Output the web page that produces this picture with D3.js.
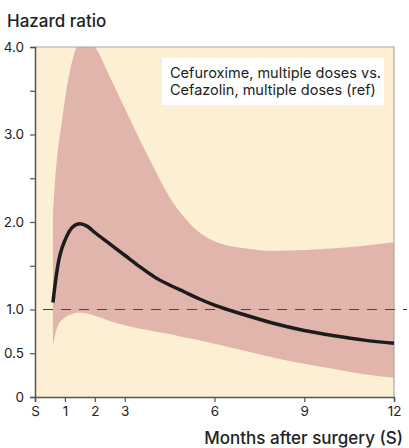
<!DOCTYPE html>
<html>
<head>
<meta charset="utf-8">
<script src="https://cdn.jsdelivr.net/npm/d3@7"></script>
<style>
  body { margin: 0; background: #fff; }
  svg { display: block; }
</style>
</head>
<body>
<svg id="chart" width="409" height="448"></svg>
<script>
// months after surgery, with hazard ratio and 95% band
const months = [0.6, 0.7, 0.8, 0.9, 1.0, 1.25, 1.5, 1.75, 2, 2.5, 3, 3.5, 4, 4.5, 5, 5.5, 6, 7, 8, 9, 10, 11, 12];
const hazard = [1.08, 1.36, 1.57, 1.70, 1.79, 1.94, 1.98, 1.95, 1.88, 1.75, 1.62, 1.49, 1.37, 1.28, 1.20, 1.12, 1.05, 0.94, 0.84, 0.76, 0.70, 0.65, 0.615];
const upper = [2.1, 2.6, 2.92, 3.15, 3.4, 3.85, 4.05, 4.07, 4.0, 3.66, 3.3, 2.94, 2.6, 2.28, 2.05, 1.88, 1.78, 1.70, 1.67, 1.68, 1.70, 1.73, 1.77];
const lower = [0.58, 0.75, 0.84, 0.88, 0.91, 0.95, 0.965, 0.955, 0.93, 0.87, 0.82, 0.78, 0.75, 0.72, 0.68, 0.65, 0.61, 0.53, 0.45, 0.38, 0.32, 0.26, 0.22];

const xTicks = [0, 1, 2, 3, 6, 9, 12];
const xTickLabels = ["S", "1", "2", "3", "6", "9", "12"];
const yTicks = [0, 0.5, 1, 1.5, 2, 2.5, 3, 3.5, 4];
const yTickLabels = { 0: "0", 0.5: "0.5", 1: "1.0", 2: "2.0", 3: "3.0", 4: "4.0" };
const legendLines = ["Cefuroxime, multiple doses vs.", "Cefazolin, multiple doses (ref)"];

const svg = d3.select("#chart");
const font = "Inter, 'Liberation Sans', Arial, sans-serif";
const plotLeft = 35, plotRight = 394, plotTop = 47, plotBottom = 397;

const x = d3.scaleLinear().domain([0, 12]).range([plotLeft, plotRight]);
const y = d3.scaleLinear().domain([0, 4]).range([plotBottom, plotTop]);

const data = months.map((m, i) => ({ m, hr: hazard[i], lo: lower[i], hi: upper[i] }));

svg.append("defs").append("clipPath")
  .attr("id", "plot-clip")
  .append("rect")
  .attr("x", plotLeft).attr("y", plotTop)
  .attr("width", plotRight - plotLeft).attr("height", plotBottom - plotTop);

// background
svg.append("rect")
  .attr("x", plotLeft).attr("y", plotTop)
  .attr("width", plotRight - plotLeft).attr("height", plotBottom - plotTop)
  .attr("fill", "#fdefd3");

// confidence band
const band = d3.area()
  .x(d => x(d.m))
  .y0(d => y(d.lo))
  .y1(d => y(d.hi))
  .curve(d3.curveMonotoneX);

svg.append("path")
  .datum(data)
  .attr("d", band)
  .attr("fill", "#e1b5ac")
  .attr("clip-path", "url(#plot-clip)");

// border top/right
svg.append("path")
  .attr("d", `M${plotLeft},${plotTop}H${plotRight}V${plotBottom}`)
  .attr("fill", "none")
  .attr("stroke", "#a8a8a8")
  .attr("stroke-width", 1.2);

// reference line at 1
svg.append("line")
  .attr("x1", 43).attr("x2", 407)
  .attr("y1", y(1)).attr("y2", y(1))
  .attr("stroke", "#444")
  .attr("stroke-width", 1.2)
  .attr("stroke-dasharray", "10,8");

// hazard ratio line
const line = d3.line()
  .x(d => x(d.m))
  .y(d => y(d.hr))
  .curve(d3.curveMonotoneX);

svg.append("path")
  .datum(data)
  .attr("d", line)
  .attr("fill", "none")
  .attr("stroke", "#1c1c1c")
  .attr("stroke-width", 3.5);

// axes
const yAxis = d3.axisLeft(y)
  .tickValues(yTicks)
  .tickSize(5)
  .tickPadding(6)
  .tickFormat(d => yTickLabels[d] || "");

const yg = svg.append("g")
  .attr("transform", `translate(${plotLeft},0)`)
  .call(yAxis);

const xAxis = d3.axisBottom(x)
  .tickValues(xTicks)
  .tickSize(5)
  .tickPadding(4)
  .tickFormat((d, i) => xTickLabels[i]);

const xg = svg.append("g")
  .attr("transform", `translate(0,${plotBottom})`)
  .call(xAxis);

[yg, xg].forEach(g => {
  g.select(".domain").attr("stroke", "#555").attr("stroke-width", 1.5);
  g.selectAll(".tick line").attr("stroke", "#555").attr("stroke-width", 1.2);
  g.selectAll(".tick text")
    .attr("fill", "#222")
    .style("font-family", font)
    .style("font-size", "13.5px");
});

// legend box
svg.append("rect")
  .attr("x", 162).attr("y", 58)
  .attr("width", 222).attr("height", 47)
  .attr("fill", "#fff");

svg.append("g")
  .selectAll("text")
  .data(legendLines)
  .join("text")
  .attr("x", 170)
  .attr("y", (d, i) => 78 + i * 17)
  .attr("fill", "#222")
  .style("font-family", font)
  .style("font-size", "14.5px")
  .text(d => d);

// titles
svg.append("text")
  .attr("x", 7)
  .attr("y", 27)
  .attr("fill", "#222")
  .style("font-family", font)
  .style("font-weight", 500)
  .style("font-size", "17px")
  .text("Hazard ratio");

svg.append("text")
  .attr("x", 403)
  .attr("y", 444)
  .attr("text-anchor", "end")
  .attr("fill", "#222")
  .style("font-family", font)
  .style("font-weight", 500)
  .style("font-size", "17px")
  .text("Months after surgery (S)");
</script>
</body>
</html>
